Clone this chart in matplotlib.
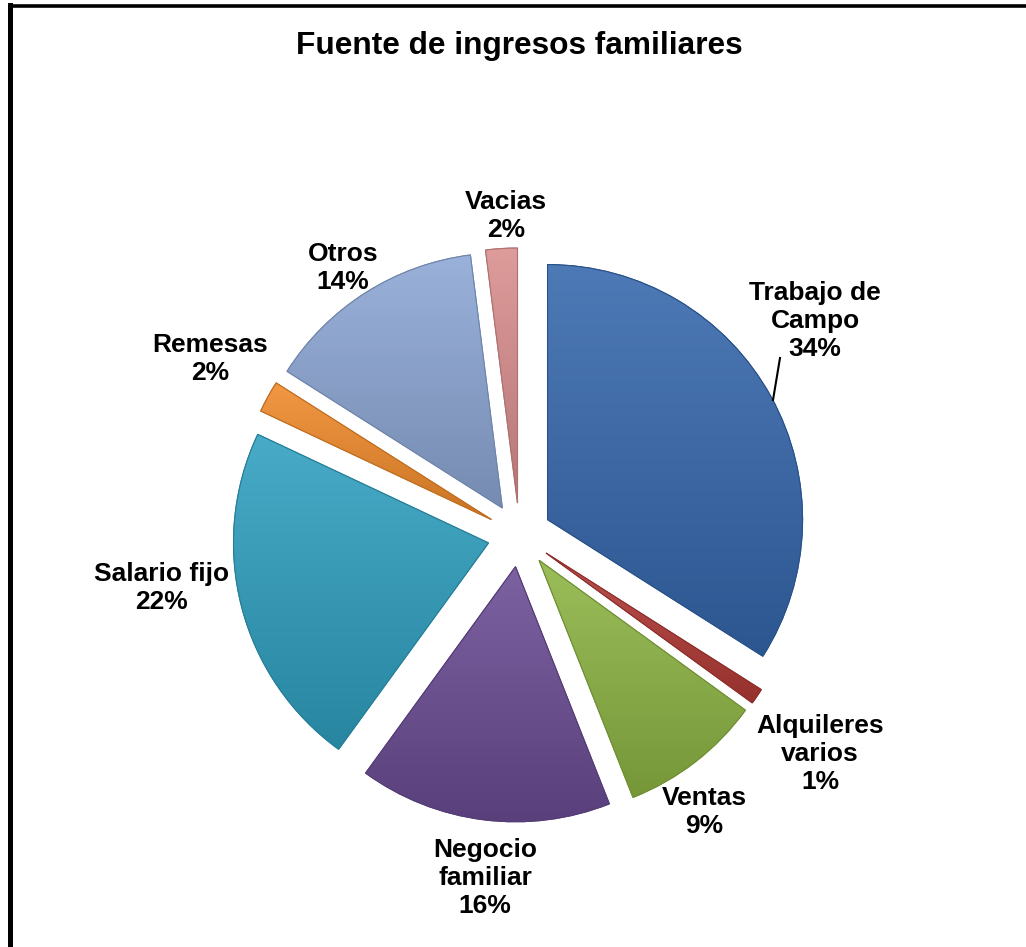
import matplotlib
matplotlib.use("Agg")
import matplotlib.pyplot as plt
import matplotlib.colors as mcolors
import matplotlib.patches as mpatches
import numpy as np
from matplotlib.lines import Line2D

plt.rcParams['font.family'] = ['Liberation Sans', 'DejaVu Sans']

# ---- data ----
title = "Fuente de ingresos familiares"
categories = ["Trabajo de\nCampo", "Alquileres\nvarios", "Ventas", "Negocio\nfamiliar",
              "Salario fijo", "Remesas", "Otros", "Vacias"]
values = [34, 1, 9, 16, 22, 2, 14, 2]
pct_labels = ["34%", "1%", "9%", "16%", "22%", "2%", "14%", "2%"]

# ---- style / layout ----
colors = ["#3567ac", "#b23a36", "#8db443", "#6a4c93", "#2f9fbf", "#f08a2a", "#8ca6d4", "#d98e8d"]
label_pos = [(815, 321), (820, 754), (704, 812), (485, 878),
             (162, 588), (210, 359), (343, 268), (506, 216)]  # pixel coords (y down)

W, H = 1026, 947
fig = plt.figure(figsize=(W / 100, H / 100), dpi=100)
ax = fig.add_axes([0, 0, 1, 1])

cx, cy = 519.5, H - 535
R = 255
EXPL = 32
wedges, _ = ax.pie(values, startangle=90, counterclock=False, radius=R, center=(cx, cy),
                   explode=[EXPL] * len(values), colors=colors,
                   wedgeprops=dict(linewidth=0.8), frame=True)
ax.set_xlim(0, W)
ax.set_ylim(0, H)
ax.set_aspect('equal')
ax.axis('off')

# gradient shading clipped to each wedge
for w, c in zip(wedges, colors):
    base = np.array(mcolors.to_rgb(c))
    light = np.clip(base + (1 - base) * 0.12, 0, 1)
    dark = base * 0.84
    w.set_edgecolor(tuple(base * 0.8))
    bb = w.get_path().get_extents(w.get_patch_transform())
    x0, y0, x1, y1 = bb.x0, bb.y0, bb.x1, bb.y1
    t = np.linspace(0, 1, 64)[:, None, None]
    grad = dark * (1 - t) + light * t
    img = np.repeat(grad, 2, axis=1)
    im = ax.imshow(img, extent=(x0, x1, y0, y1), origin='lower', aspect='auto',
                   interpolation='bilinear', zorder=w.get_zorder() + 0.1)
    im.set_clip_path(w)
    ax.add_patch(mpatches.PathPatch(
        w.get_path().transformed(w.get_patch_transform()), facecolor='none',
        edgecolor=tuple(base * 0.8), linewidth=0.8, zorder=w.get_zorder() + 0.2))

ax.set_xlim(0, W)
ax.set_ylim(0, H)

for cat, pct, (px, py) in zip(categories, pct_labels, label_pos):
    ax.text(px, H - py, f"{cat}\n{pct}", ha='center', va='center', fontsize=19,
            fontweight='bold', linespacing=1.22, color='black', zorder=10)

# leader line for Trabajo de Campo
ax.plot([780, 773], [H - 358, H - 400], color='black', lw=1.5, zorder=10)

fig.text(519.5 / W, 1 - 46 / H, title, ha='center', va='center', fontsize=22.8, fontweight='bold')

# frame (left and top edges visible)
fig.add_artist(Line2D([9.5 / W, 9.5 / W], [0, 1 - 5 / H], transform=fig.transFigure,
                      color='black', lw=3.6, solid_capstyle='projecting'))
fig.add_artist(Line2D([9.5 / W, 1], [1 - 6.5 / H, 1 - 6.5 / H], transform=fig.transFigure,
                      color='black', lw=2.6, solid_capstyle='projecting'))

fig.savefig("out.png", dpi=100, facecolor='white')
